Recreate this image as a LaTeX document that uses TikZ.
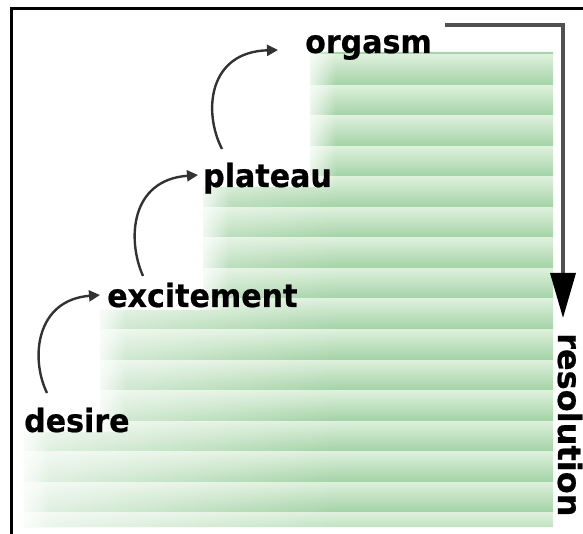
\documentclass[tikz,border=0pt]{standalone}
\usepackage{fontspec}
\newfontfamily\labfont{DejaVu Sans}[FakeStretch=0.94,FakeBold=0.6]
\newfontfamily\resfont{DejaVu Sans}[FakeStretch=1.0,FakeBold=0.6]
\usetikzlibrary{arrows.meta,fadings}
\definecolor{gdark}{RGB}{162,210,165}
\definecolor{glite}{RGB}{222,240,220}
\definecolor{lineg}{RGB}{50,50,50}
\begin{document}
\begin{tikzpicture}[x=1pt,y=-1pt,
  lab/.style={font=\labfont\bfseries\fontsize{32}{32}\selectfont, inner sep=0pt, anchor=base west},
  curv/.style={draw=lineg, line width=2.4pt, -{Triangle[length=11pt,width=11pt]}},
  resarrow/.style={draw=lineg!85, line width=3.5pt, line join=miter, -{Triangle[length=45pt,width=25pt,color=black]}}]
\useasboundingbox (0,0) rectangle (583,534);
% frame
\draw[line width=3pt] (11,534) -- (11,9) -- (583,9);
% staircase
\begin{scope}
\clip (24,527) -- (24,432) -- (100,432) -- (100,310) -- (203,310) -- (203,187) -- (310,187) -- (310,52) -- (553,52) -- (553,527) -- cycle;
\foreach \k in {-1,...,15} {
  \pgfmathsetmacro\L{55+30.5*\k}
  \shade[top color=glite, bottom color=gdark] (0,\L) rectangle (583,\L+30.6);
}
\fill[white, opacity=0.7, path fading=east] (24,0) rectangle (340,534);
\foreach \x/\y/\z in {24/432/527,100/310/432,203/187/310,310/52/187}
  \fill[white, opacity=0.75, path fading=east] (\x,\y) rectangle (\x+26,\z);
\end{scope}
% labels
\node[lab] (desire) at (24,432) {desire};
\node[lab] (excitement) at (107,307) {excitement};
\node[lab] (plateau) at (203,187) {plateau};
\node[lab] (orgasm) at (305,53) {orgasm};
\node[lab, font=\resfont\bfseries\fontsize{32}{32}\selectfont, rotate=-90] (resolution) at (558,333) {resolution};
% curved arrows
\coordinate (a1s) at (47,393); \coordinate (a1e) at (100,295);
\coordinate (a2s) at (143,276); \coordinate (a2e) at (198,175);
\coordinate (a3s) at (222,149); \coordinate (a3e) at (278,50);
\draw[curv] (a1s) .. controls (30,358) and (36,300) .. (a1e);
\draw[curv] (a2s) .. controls (127,240) and (130,180) .. (a2e);
\draw[curv] (a3s) .. controls (203,112) and (208,52) .. (a3e);
% resolution arrow
\coordinate (r1) at (445,25); \coordinate (r2) at (563,318);
\draw[resarrow] (r1) -| (r2);
\end{tikzpicture}
\end{document}
